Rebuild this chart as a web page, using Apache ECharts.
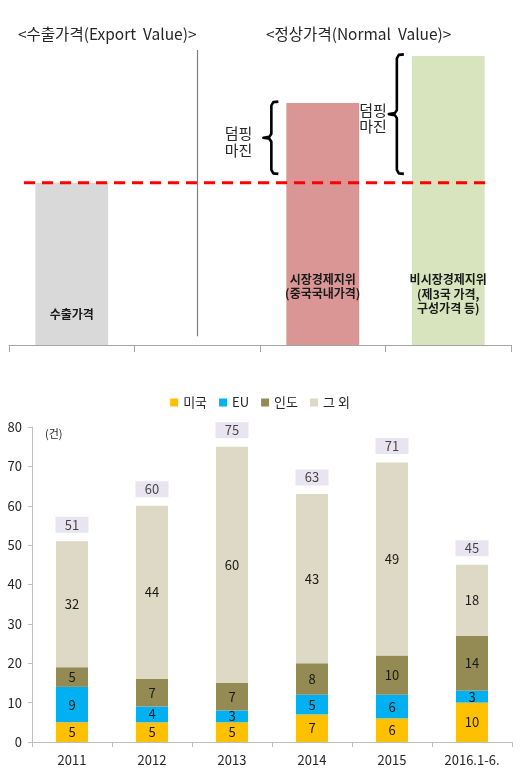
<!DOCTYPE html>
<html><head><meta charset="utf-8">
<script src="https://cdn.jsdelivr.net/npm/echarts@6/dist/echarts.min.js"></script>
<style>html,body{margin:0;padding:0;background:#fff}#c{width:520px;height:773px}</style>
</head><body><div id="c"></div>
<script>
// ---------- top diagram data ----------
const diagramTitles = ['<수출가격(Export  Value)>', '<정상가격(Normal  Value)>'];
const diagramSlots = ['수출가격', '', '시장경제지위\n(중국국내가격)', '비시장경제지위\n(제3국 가격,\n구성가격 등)'];
const diagramValues = [55, null, 82, 98];
const exportPrice = 55;
const marginLabel = '덤핑\n마진';

// ---------- bottom chart data ----------
const years = ['2011', '2012', '2013', '2014', '2015', '2016.1-6.'];
const seriesNames = ['미국', 'EU', '인도', '그 외'];
const usa = [5, 5, 5, 7, 6, 10];
const eu = [9, 4, 3, 5, 6, 3];
const india = [5, 7, 7, 8, 10, 14];
const others = [32, 44, 60, 43, 49, 18];
const unitLabel = '(건)';
const yMin = 0, yMax = 80, yStep = 10;

const FONT = "'Noto Sans CJK KR', 'Noto Sans', sans-serif";
const TXT = '#262626';

const stackValues = [usa, eu, india, others];
const totals = years.map((_, i) => stackValues.reduce((s, arr) => s + arr[i], 0));

const barFill = ['#D9D9D9', null, '#D99694', '#D7E4BD'];
const labelDist = [23, 0, 44, 29];

const diagramData = diagramValues.map((v, i) => v == null ? null : ({
  value: v,
  itemStyle: { color: barFill[i] },
  label: { distance: labelDist[i] }
}));

const braceData = [];
diagramValues.forEach((v, i) => { if (v != null && i > 0) braceData.push([i, exportPrice + 3, v]); });

const colors = ['#FFC000', '#00B0F0', '#948A54', '#DDD9C4'];

const chart = echarts.init(document.getElementById('c'), null, { renderer: 'canvas' });
chart.setOption({
  backgroundColor: '#fff',
  animation: false,
  textStyle: { fontFamily: FONT },
  title: [
    { text: diagramTitles[0], left: 13, top: 21, textStyle: { fontSize: 15.5, fontWeight: 'normal', color: TXT, fontFamily: FONT } },
    { text: diagramTitles[1], left: 261, top: 21, textStyle: { fontSize: 15.5, fontWeight: 'normal', color: TXT, fontFamily: FONT } }
  ],
  legend: {
    data: seriesNames, top: 391, left: 'center', icon: 'rect', itemWidth: 8, itemHeight: 8, itemGap: 12,
    textStyle: { fontSize: 13, color: TXT, fontFamily: FONT }
  },
  grid: [
    { left: 9, right: 9, top: 50, height: 295 },
    { left: 24, right: 28, top: 50, height: 295 },
    { left: 32, right: 8, top: 427, bottom: 31 }
  ],
  xAxis: [
    { gridIndex: 0, type: 'category', data: diagramSlots, boundaryGap: true,
      axisLine: { lineStyle: { color: '#A6A6A6', width: 1 } },
      axisTick: { show: true, length: 7, interval: 0, lineStyle: { color: '#A6A6A6' } },
      axisLabel: { show: false }, splitLine: { show: false } },
    { gridIndex: 1, type: 'value', min: 0, max: 1, show: false },
    { gridIndex: 2, type: 'category', data: years, boundaryGap: true,
      axisLine: { lineStyle: { color: '#BFBFBF' } },
      axisTick: { show: true, length: 5, interval: 0, lineStyle: { color: '#BFBFBF' } },
      axisLabel: { fontSize: 13, color: TXT, margin: 12, fontFamily: FONT, interval: 0 } }
  ],
  yAxis: [
    { gridIndex: 0, type: 'value', min: 0, max: 100, show: false },
    { gridIndex: 1, type: 'value', min: 0, max: 100, show: false },
    { gridIndex: 2, type: 'value', min: yMin, max: yMax, interval: yStep,
      name: unitLabel, nameLocation: 'end', nameGap: -12,
      nameTextStyle: { fontSize: 11, color: TXT, align: 'left', padding: [0, 0, 0, 13], fontFamily: FONT },
      axisLine: { show: true, lineStyle: { color: '#BFBFBF' } },
      axisTick: { show: true, length: 4, lineStyle: { color: '#BFBFBF' } },
      splitLine: { show: false },
      axisLabel: { fontSize: 13, color: TXT, margin: 10, fontFamily: FONT } }
  ],
  series: [
    {
      type: 'bar', xAxisIndex: 0, yAxisIndex: 0, barWidth: '58%', data: diagramData, silent: true,
      label: { show: true, position: 'insideBottom', formatter: '{b}', fontSize: 12, fontWeight: 'bold',
        lineHeight: 14.5, color: '#1a1a1a', fontFamily: FONT },
      markLine: {
        silent: true, symbol: 'none', label: { show: false },
        lineStyle: { color: '#7F7F7F', width: 1.2, type: 'solid' },
        data: [[{ coord: [1, 3] }, { coord: [1, 100] }]]
      }
    },
    {
      type: 'line', xAxisIndex: 1, yAxisIndex: 1, symbol: 'none', silent: true,
      data: [[0, exportPrice], [1, exportPrice]],
      lineStyle: { color: '#FF0000', width: 3, type: [11, 7] }
    },
    {
      type: 'custom', xAxisIndex: 0, yAxisIndex: 0, silent: true, data: braceData,
      renderItem: function (params, api) {
        const idx = api.value(0);
        const pLow = api.coord([idx, api.value(1)]);
        const pHigh = api.coord([idx, api.value(2)]);
        const slot = api.size([1, 0])[0];
        const x = pLow[0] - slot * 0.29 - 15;
        const top = pHigh[1] - 1.5, bot = pLow[1];
        const mid = (top + bot) / 2;
        const gap = params.dataIndex === 0 ? 19 : 10;
        return {
          type: 'group', children: [
            { type: 'polyline', shape: { points: [[x + 7, top], [x + 2, top + 0.5], [x, top + 4], [x, mid - 4], [x - 2, mid - 1], [x - 8, mid], [x - 2, mid + 1], [x, mid + 4], [x, bot - 4], [x + 2, bot - 0.5], [x + 7, bot]] },
              style: { stroke: '#000', lineWidth: 2.6, fill: null, lineJoin: 'round' } },
            { type: 'text', x: x - gap, y: mid + 4,
              style: { text: marginLabel, fontSize: 15, lineHeight: 16.5, align: 'right', verticalAlign: 'middle', fill: TXT, fontFamily: FONT } }
          ]
        };
      }
    },
    ...seriesNames.map((name, k) => ({
      name, type: 'bar', stack: 'total', xAxisIndex: 2, yAxisIndex: 2, barWidth: 32,
      itemStyle: { color: colors[k] },
      data: stackValues[k],
      label: { show: true, position: 'inside', fontSize: 13, color: '#1a1a1a', fontFamily: FONT }
    })),
    {
      name: 'total', type: 'scatter', xAxisIndex: 2, yAxisIndex: 2, symbolSize: 1,
      itemStyle: { color: 'rgba(0,0,0,0)' }, data: totals, silent: true,
      label: { show: true, position: 'top', distance: 8, fontSize: 13, color: '#1a1a1a', fontFamily: FONT,
        backgroundColor: '#E4DFEC', width: 33, align: 'center', lineHeight: 14, padding: [1, 0, 1, 0] }
    }
  ]
});
</script></body></html>
